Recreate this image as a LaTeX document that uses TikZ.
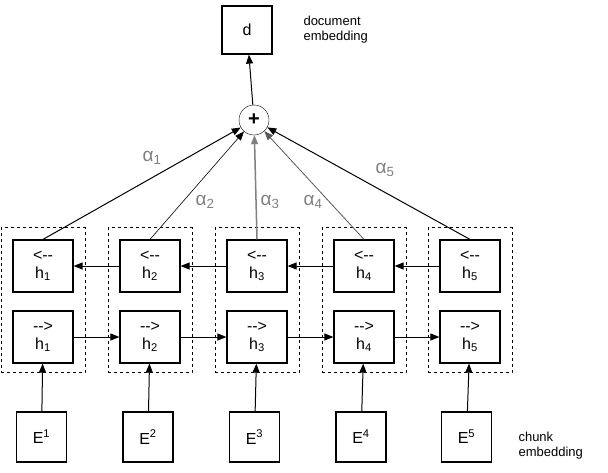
\documentclass[tikz,border=0pt]{standalone}
\usepackage{fontspec}
\setmainfont{Liberation Sans}
\usetikzlibrary{arrows.meta}
\begin{document}
\begin{tikzpicture}[x=1pt,y=-1pt,
  box/.style={draw, line width=1.2pt, minimum width=60pt, minimum height=52pt, inner sep=0pt, font=\fontsize{16}{18}\selectfont, align=center},
  grp/.style={draw, dashed, line width=0.7pt, minimum width=84pt, minimum height=145pt, inner sep=0pt},
  arr/.style={-{Triangle[length=9pt,width=7pt]}, line width=1pt},
  lab/.style={text=gray, font=\fontsize{19}{19}\selectfont},
  note/.style={font=\fontsize{13}{15}\selectfont, align=left, anchor=west}]
\useasboundingbox (0,0) rectangle (608,472);
\foreach \i/\x in {1/43,2/150,3/257,4/364,5/470}{
  \node[grp] (g\i) at (\x,300) {};
  \node[box] (b\i) at (\x,266) {<{-}{-}\\h\textsubscript{\i}};
  \node[box] (f\i) at (\x,337) {{-}{-}>\\h\textsubscript{\i}};
  \node[box, minimum width=50pt, minimum height=50pt] (e\i) at (\x-\i*0.5-1,437) {E\textsuperscript{\i}};
  \draw[arr] (e\i) -- (f\i);
}
\node[box, minimum width=50pt, minimum height=48pt] (d) at (247,30) {d};
\node[draw, circle, minimum size=30pt, inner sep=0pt, font=\fontsize{20}{20}\selectfont\bfseries] (p) at (254,120) {+};
\draw[arr] (p) -- (d);
\foreach \a/\b in {1/2,2/3,3/4,4/5}{
  \draw[arr] (f\a) -- (f\b);
  \draw[arr] (b\b) -- (b\a);
}
\draw[arr] (b1.north) -- (p);
\draw[arr, line width=0.6pt] (b2.north) -- (p);
\draw[arr, gray, line width=1.5pt] (b3.north) -- (p);
\draw[arr, gray!70!black, line width=0.8pt] (b4.north) -- (p);
\draw[arr] (b5.north) -- (p);
\node[lab] (a1) at (152,158) {α\textsubscript{1}};
\node[lab] (a2) at (205,202) {α\textsubscript{2}};
\node[lab] (a3) at (270,202) {α\textsubscript{3}};
\node[lab] (a4) at (313,202) {α\textsubscript{4}};
\node[lab] (a5) at (385,170) {α\textsubscript{5}};
\node[note] (nd) at (300,30) {document\\embedding};
\node[note] (nc) at (515,446) {chunk\\embedding};
\end{tikzpicture}
\end{document}
